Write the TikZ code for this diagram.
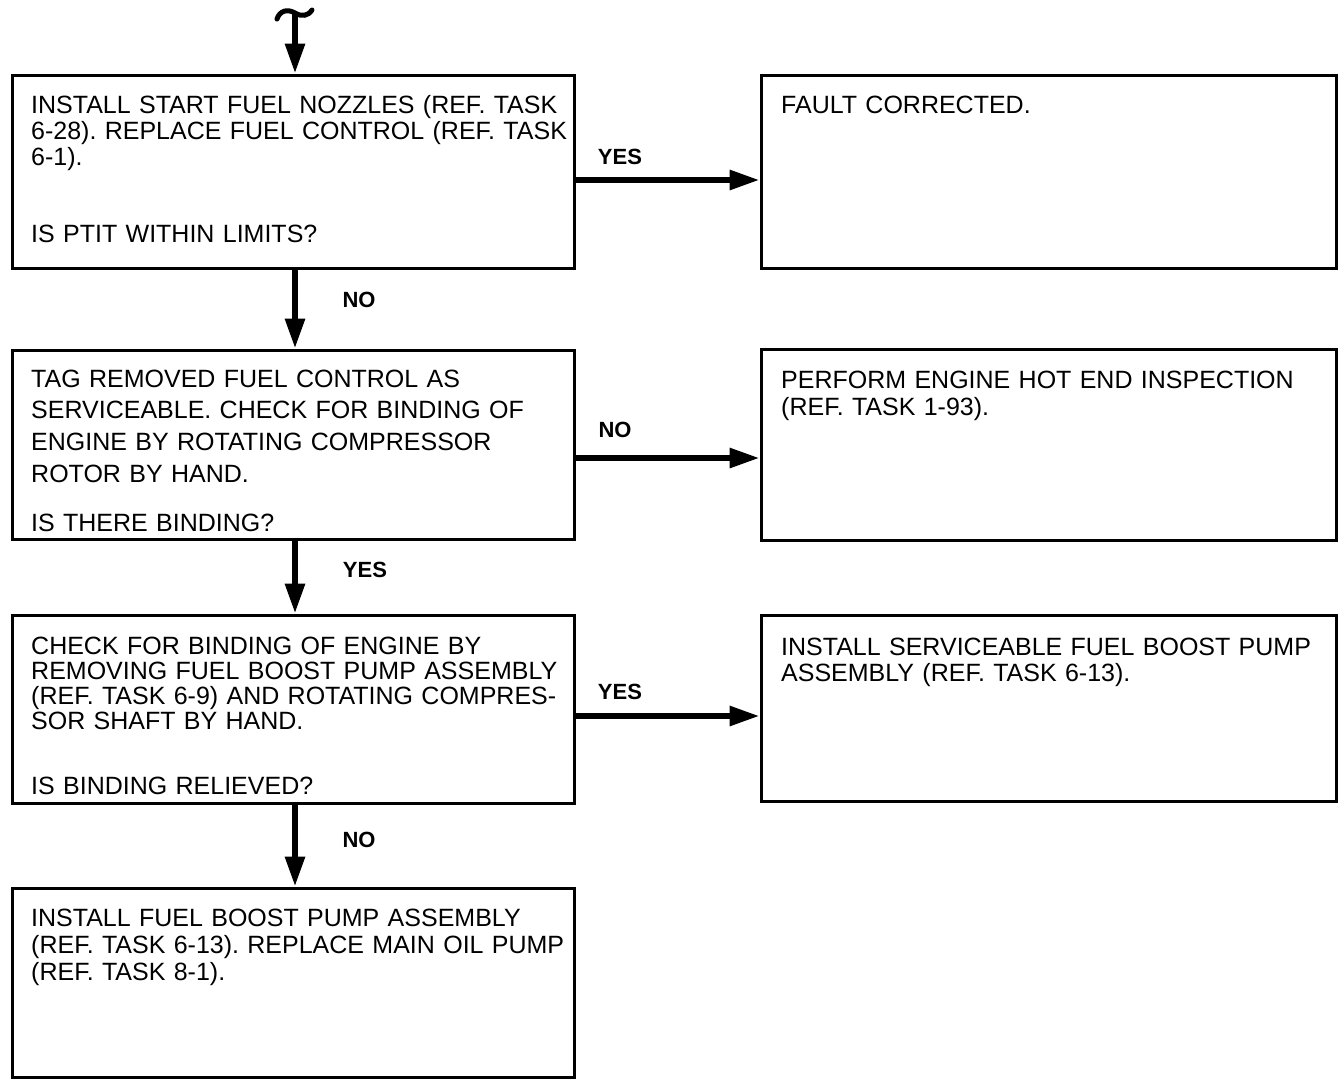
\documentclass[tikz,border=0pt]{standalone}
\usepackage{fontspec}
\setmainfont{Liberation Sans}
\usetikzlibrary{arrows.meta}
\frenchspacing
\begin{document}
\begin{tikzpicture}[x=1pt,y=-1pt,
  box/.style={draw=black, line width=3pt, rectangle, inner sep=0pt},
  txt/.style={anchor=base west, inner sep=0pt, align=left, text width=640pt},
  lbl/.style={inner sep=0pt, font=\fontsize{22}{24}\bfseries\selectfont},
  arr/.style={line width=6pt, -{Triangle[length=30pt,width=19pt]}}]
\useasboundingbox (0,0) rectangle (1340,1079);
% boxes
\node[box, minimum width=562pt, minimum height=193pt] (b1) at (293,171.5) {};
\node[box, minimum width=562pt, minimum height=189pt] (b2) at (293,444.5) {};
\node[box, minimum width=562pt, minimum height=188pt] (b3) at (293,709) {};
\node[box, minimum width=562pt, minimum height=189pt] (b4) at (293,982.5) {};
\node[box, minimum width=575pt, minimum height=193pt] (r1) at (1048.5,171.5) {};
\node[box, minimum width=575pt, minimum height=191pt] (r2) at (1048.5,444.5) {};
\node[box, minimum width=575pt, minimum height=186pt] (r3) at (1048.5,708) {};
% texts
\node[txt, font=\fontsize{25}{26}\selectfont] (t1) at (31,113)
  {INSTALL START FUEL NOZZLES (REF. TASK\\6-28). REPLACE FUEL CONTROL (REF. TASK\\6-1).};
\node[txt, font=\fontsize{25}{26}\selectfont] (q1) at (31,242) {IS PTIT WITHIN LIMITS?};
\node[txt, font=\fontsize{25}{31.7}\selectfont] (t2) at (31,387)
  {TAG REMOVED FUEL CONTROL AS\\SERVICEABLE. CHECK FOR BINDING OF\\ENGINE BY ROTATING COMPRESSOR\\ROTOR BY HAND.};
\node[txt, font=\fontsize{25}{26}\selectfont] (q2) at (31,531) {IS THERE BINDING?};
\node[txt, font=\fontsize{25}{25}\selectfont] (t3) at (31,654)
  {CHECK FOR BINDING OF ENGINE BY\\REMOVING FUEL BOOST PUMP ASSEMBLY\\(REF. TASK 6-9) AND ROTATING COMPRES-\\SOR SHAFT BY HAND.};
\node[txt, font=\fontsize{25}{26}\selectfont] (q3) at (31,794) {IS BINDING RELIEVED?};
\node[txt, font=\fontsize{25}{27}\selectfont] (t4) at (31,926)
  {INSTALL FUEL BOOST PUMP ASSEMBLY\\(REF. TASK 6-13). REPLACE MAIN OIL PUMP\\(REF. TASK 8-1).};
\node[txt, font=\fontsize{25}{27}\selectfont] (s1) at (781,113) {FAULT CORRECTED.};
\node[txt, font=\fontsize{25}{27}\selectfont] (s2) at (781,388)
  {PERFORM ENGINE HOT END INSPECTION\\(REF. TASK 1-93).};
\node[txt, font=\fontsize{25}{26}\selectfont] (s3) at (781,655)
  {INSTALL SERVICEABLE FUEL BOOST PUMP\\ASSEMBLY (REF. TASK 6-13).};
% helper coordinates
\coordinate (col) at (295,0);
\coordinate (start) at (295,14);
\coordinate (h1) at (0,180);
\coordinate (h2) at (0,458);
\coordinate (h3) at (0,716);
% entry squiggle
\draw[line width=5pt, line cap=round]
  (277,19) .. controls (280,10) and (288,9) .. (295,13)
  .. controls (302,17) and (308,16) .. (312,10);
\draw[arr] (start) -- (start |- b1.north);
% vertical connectors
\draw[arr] (b1.south -| col) -- (b2.north -| col);
\draw[arr] (b2.south -| col) -- (b3.north -| col);
\draw[arr] (b3.south -| col) -- (b4.north -| col);
% horizontal connectors
\draw[arr] (b1.east |- h1) -- (r1.west |- h1);
\draw[arr] (b2.east |- h2) -- (r2.west |- h2);
\draw[arr] (b3.east |- h3) -- (r3.west |- h3);
% labels
\node[lbl] (l1) at (620,157) {YES};
\node[lbl] (l2) at (615,430) {NO};
\node[lbl] (l3) at (620,692) {YES};
\node[lbl] (l4) at (359,300) {NO};
\node[lbl] (l5) at (365,570) {YES};
\node[lbl] (l6) at (359,840) {NO};
\end{tikzpicture}
\end{document}
